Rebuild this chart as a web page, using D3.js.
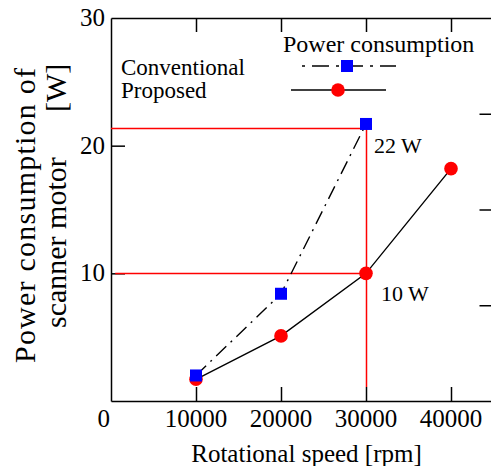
<!DOCTYPE html>
<html>
<head>
<meta charset="utf-8">
<script src="https://d3js.org/d3.v7.min.js"></script>
<style>
body { margin: 0; background: #fff; }
svg text { font-family: "Liberation Serif", "Times New Roman", serif; fill: #000; }
.axis path, .axis line { stroke: #000; stroke-width: 1.5; }
.ref { stroke: #ff0000; stroke-width: 1.5; }
</style>
</head>
<body>
<script>

// data
var speeds = [10000, 20000, 30000, 40000];
var conventional = [2.0, 8.4, 21.7];
var proposed = [1.7, 5.1, 10.0, 18.2];
var xTicks = [0, 10000, 20000, 30000, 40000];
var yTicks = [10, 20, 30];
var rightTicks = [10, 20, 30];
var refLevels = [21.4, 10.0];
var refSpeed = 30000;
var refLabels = ["22 W", "10 W"];

var width = 491, height = 466;
var margin = {left: 111, top: 18, bottom: 401, right: 493.5};

var svg = d3.select("body").append("svg")
    .attr("width", width)
    .attr("height", height);

var x = d3.scaleLinear().domain([0, 45000]).range([margin.left, margin.right]);
var y = d3.scaleLinear().domain([0, 30]).range([margin.bottom, margin.top]);
var yRight = d3.scaleLinear().domain([0, 40]).range([margin.bottom, margin.top]);

// snap a coordinate to the pixel grid so thin red lines stay bright
function px(v) { return Math.round(v) + 0.5; }

svg.append("g").attr("class", "axis")
    .attr("transform", "translate(0," + margin.bottom + ")")
    .call(d3.axisBottom(x).tickValues(speeds).tickSize(-14).tickSizeOuter(0).tickFormat(""));
svg.append("g").attr("class", "axis")
    .attr("transform", "translate(0," + margin.top + ")")
    .call(d3.axisTop(x).tickValues(speeds).tickSize(-14).tickSizeOuter(0).tickFormat(""));
svg.append("g").attr("class", "axis")
    .attr("transform", "translate(" + margin.left + ",0)")
    .call(d3.axisLeft(y).tickValues([10, 20]).tickSize(-14).tickSizeOuter(0).tickFormat(""));
svg.append("g").attr("class", "axis")
    .attr("transform", "translate(" + margin.right + ",0)")
    .call(d3.axisRight(yRight).tickValues(rightTicks).tickSize(-14).tickSizeOuter(0).tickFormat(""));

// tick labels
svg.selectAll(".xlab")
    .data(xTicks)
  .enter().append("text")
    .attr("class", "xlab")
    .attr("x", function(d) { return d == 0 ? x(d) - 1 : x(d); })
    .attr("y", 427)
    .attr("text-anchor", function(d) { return d == 0 ? "end" : "middle"; })
    .style("font-size", "25px")
    .text(function(d) { return d; });

svg.selectAll(".ylab")
    .data(yTicks)
  .enter().append("text")
    .attr("class", "ylab")
    .attr("x", margin.left - 6)
    .attr("y", function(d) { return y(d) + 8; })
    .attr("text-anchor", "end")
    .style("font-size", "25px")
    .text(function(d) { return d; });

// axis titles
svg.append("text")
    .attr("x", (190 + 423) / 2)
    .attr("y", 462)
    .attr("text-anchor", "middle")
    .style("font-size", "25px")
    .text("Rotational speed [rpm]");

svg.append("text")
    .attr("transform", "translate(35,363) rotate(-90)")
    .style("font-size", "30px")
    .attr("textLength", 295)
    .text("Power consumption of");
svg.append("text")
    .attr("transform", "translate(66,328) rotate(-90)")
    .style("font-size", "30px")
    .text("scanner motor");
svg.append("text")
    .attr("transform", "translate(66,112) rotate(-90)")
    .style("font-size", "30px")
    .text("[W]");

// red reference lines
var red = "#ff0000";
svg.append("line").attr("class", "ref")
    .attr("x1", x(0)).attr("x2", px(x(refSpeed)))
    .attr("y1", px(y(refLevels[0]))).attr("y2", px(y(refLevels[0])));
svg.append("line").attr("class", "ref")
    .attr("x1", x(500)).attr("x2", px(x(refSpeed)))
    .attr("y1", px(y(refLevels[1]))).attr("y2", px(y(refLevels[1])));
svg.append("line").attr("class", "ref")
    .attr("x1", px(x(refSpeed))).attr("x2", px(x(refSpeed)))
    .attr("y1", px(y(refLevels[0]))).attr("y2", y(1.1));

svg.append("text").attr("x", 374).attr("y", 153).style("font-size", "22px").text(refLabels[0]);
svg.append("text").attr("x", 381).attr("y", 301).style("font-size", "22px").text(refLabels[1]);

// series lines
var line = d3.line()
    .x(function(d) { return x(d[0]); })
    .y(function(d) { return y(d[1]); });

var propData = speeds.map(function(s, i) { return [s, proposed[i]]; });
var convData = conventional.map(function(v, i) { return [speeds[i], v]; });

svg.append("path")
    .datum(propData)
    .attr("d", line)
    .style("fill", "none").style("stroke", "#000").style("stroke-width", 1.4);

svg.append("path")
    .datum(convData)
    .attr("d", line)
    .style("fill", "none").style("stroke", "#000").style("stroke-width", 1.4)
    .style("stroke-dasharray", "14,6,2,6");

svg.selectAll(".prop")
    .data(propData)
  .enter().append("circle")
    .attr("class", "prop")
    .attr("cx", function(d) { return x(d[0]); })
    .attr("cy", function(d) { return y(d[1]); })
    .attr("r", 6.8)
    .style("fill", red);

svg.selectAll(".conv")
    .data(convData)
  .enter().append("rect")
    .attr("class", "conv")
    .attr("x", function(d) { return x(d[0]) - 6; })
    .attr("y", function(d) { return y(d[1]) - 6; })
    .attr("width", 12)
    .attr("height", 12)
    .style("fill", "#0000ff");

// legend
svg.append("text").attr("x", 283).attr("y", 52).style("font-size", "24px").text("Power consumption");
svg.append("text").attr("x", 121).attr("y", 75).style("font-size", "23px").text("Conventional");
svg.append("text").attr("x", 121).attr("y", 98).style("font-size", "23px").text("Proposed");

svg.append("line")
    .attr("x1", 302).attr("x2", 396).attr("y1", 66).attr("y2", 66)
    .style("stroke", "#000").style("stroke-width", 1.4)
    .style("stroke-dasharray", "3,7,17,7");
svg.append("rect")
    .attr("x", 341).attr("y", 60).attr("width", 12).attr("height", 12)
    .style("fill", "#0000ff");
svg.append("line")
    .attr("x1", 291).attr("x2", 386).attr("y1", 90).attr("y2", 90)
    .style("stroke", "#000").style("stroke-width", 1.4);
svg.append("circle")
    .attr("cx", 338).attr("cy", 90).attr("r", 6.8)
    .style("fill", red);

</script>
</body>
</html>
